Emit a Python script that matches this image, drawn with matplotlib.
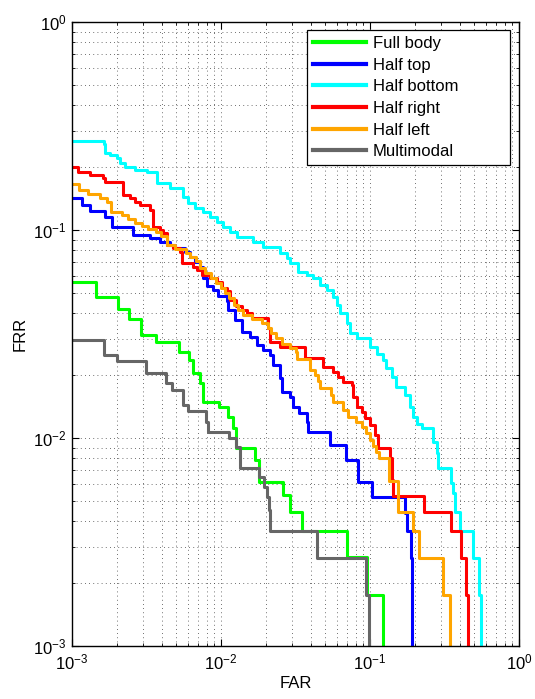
import matplotlib
matplotlib.use("Agg")
import matplotlib.pyplot as plt

plt.rcParams['font.family'] = ['Liberation Sans', 'DejaVu Sans']
plt.rcParams['font.size'] = 12

# DET curves: each point is where the step drops (steps-post)
full_far = [1.00e-3, 1.45e-3, 2.04e-3, 2.41e-3, 2.90e-3, 3.66e-3, 5.22e-3, 6.10e-3, 6.49e-3,
            7.23e-3, 7.57e-3, 9.70e-3, 1.11e-2, 1.20e-2, 1.26e-2, 1.69e-2, 1.80e-2, 2.61e-2,
            2.90e-2, 3.50e-2, 7.01e-2, 9.55e-2, 0.122]
full_frr = [0.0562, 0.0476, 0.0417, 0.0373, 0.0313, 0.0290, 0.0259, 0.0237, 0.0205,
            0.0184, 0.0149, 0.0141, 0.0126, 0.0112, 0.00895, 0.00784, 0.00614, 0.00532,
            0.00441, 0.00357, 0.00268, 0.00176, 1e-3]

top_far = [1.00e-3, 1.17e-3, 1.32e-3, 1.67e-3, 1.85e-3, 2.57e-3, 3.34e-3, 3.90e-3, 4.55e-3,
           4.91e-3, 5.73e-3, 6.19e-3, 6.69e-3, 7.23e-3, 7.57e-3, 8.05e-3, 8.84e-3, 9.55e-3,
           1.10e-2, 1.11e-2, 1.24e-2, 1.38e-2, 1.57e-2, 1.75e-2, 1.91e-2, 2.13e-2, 2.23e-2,
           2.49e-2, 2.57e-2, 2.90e-2, 3.04e-2, 3.34e-2, 3.78e-2, 3.84e-2, 5.39e-2, 6.90e-2,
           8.30e-2, 0.103, 0.172, 0.177, 0.188, 0.191]
top_frr = [0.1426, 0.132, 0.123, 0.1155, 0.1033, 0.0946, 0.0915, 0.0876, 0.0847,
           0.0819, 0.0784, 0.0742, 0.0702, 0.0664, 0.0588, 0.0538, 0.0515, 0.0482,
           0.0456, 0.0412, 0.0369, 0.0323, 0.0306, 0.0280, 0.0265, 0.0251, 0.0224,
           0.0194, 0.0166, 0.0157, 0.0141, 0.0132, 0.0119, 0.0107, 0.00925, 0.00784,
           0.00614, 0.00520, 0.00436, 0.00357, 0.00265, 1e-3]

bottom_far = [1.00e-3, 1.64e-3, 1.67e-3, 1.80e-3, 2.00e-3, 2.10e-3, 2.27e-3, 2.65e-3, 3.19e-3,
              3.72e-3, 4.55e-3, 5.56e-3, 6.01e-3, 6.69e-3, 7.57e-3, 8.44e-3, 9.40e-3, 1.03e-2,
              1.15e-2, 1.28e-2, 1.64e-2, 1.91e-2, 2.49e-2, 2.77e-2, 2.90e-2, 3.29e-2, 3.78e-2,
              4.14e-2, 4.62e-2, 5.14e-2, 5.65e-2, 6.01e-2, 6.29e-2, 7.01e-2, 7.34e-2, 8.18e-2,
              0.100, 0.111, 0.122, 0.128, 0.141, 0.149, 0.172, 0.185, 0.194, 0.207, 0.223,
              0.265, 0.282, 0.286, 0.350, 0.361, 0.372, 0.402, 0.491, 0.540, 0.556]
bottom_frr = [0.268, 0.259, 0.234, 0.2295, 0.222, 0.210, 0.201, 0.194, 0.190,
              0.168, 0.159, 0.144, 0.135, 0.128, 0.122, 0.1155, 0.109, 0.1033,
              0.0978, 0.0925, 0.0876, 0.0828, 0.0775, 0.0734, 0.0694, 0.0628, 0.0608,
              0.0588, 0.0544, 0.0515, 0.0476, 0.0436, 0.0399, 0.0357, 0.0320, 0.0303,
              0.0274, 0.0253, 0.0237, 0.0217, 0.0197, 0.0176, 0.0161, 0.0141, 0.0126, 0.0117, 0.0112,
              0.00957, 0.00847, 0.00718, 0.00608, 0.00544, 0.00441, 0.00357, 0.00265, 0.00176, 1e-3]

right_far = [1.00e-3, 1.10e-3, 1.32e-3, 1.61e-3, 1.67e-3, 2.20e-3, 2.45e-3, 2.65e-3, 2.86e-3,
             3.34e-3, 3.50e-3, 3.90e-3, 4.08e-3, 4.34e-3, 4.76e-3, 5.31e-3, 5.47e-3, 6.49e-3,
             6.90e-3, 7.45e-3, 8.44e-3, 9.40e-3, 1.02e-2, 1.10e-2, 1.15e-2, 1.26e-2, 1.38e-2,
             1.49e-2, 1.61e-2, 2.07e-2, 2.13e-2, 2.49e-2, 3.66e-2, 4.84e-2, 5.65e-2, 6.10e-2,
             6.59e-2, 7.57e-2, 7.69e-2, 8.18e-2, 8.83e-2, 9.25e-2, 0.100, 0.108, 0.113, 0.136,
             0.141, 0.143, 0.230, 0.350, 0.408, 0.441, 0.455]
right_frr = [0.201, 0.190, 0.184, 0.178, 0.170, 0.147, 0.1426, 0.136, 0.132,
             0.125, 0.103, 0.100, 0.0967, 0.0847, 0.0819, 0.0784, 0.0694, 0.0664,
             0.0642, 0.0608, 0.0588, 0.0562, 0.0526, 0.0509, 0.0461, 0.0431, 0.0412,
             0.0399, 0.0378, 0.0338, 0.0290, 0.0274, 0.0243, 0.0219, 0.0208, 0.0197,
             0.0186, 0.0180, 0.0157, 0.0141, 0.0133, 0.0125, 0.01155, 0.01033, 0.00895, 0.00801,
             0.00628, 0.00526, 0.00441, 0.00357, 0.00265, 0.00176, 1e-3]

left_far = [1.00e-3, 1.11e-3, 1.28e-3, 1.54e-3, 1.72e-3, 1.83e-3, 2.17e-3, 2.38e-3, 2.65e-3,
            2.95e-3, 3.24e-3, 3.66e-3, 3.96e-3, 4.34e-3, 4.91e-3, 5.82e-3, 6.19e-3, 6.79e-3,
            7.23e-3, 7.81e-3, 8.57e-3, 9.25e-3, 1.00e-2, 1.06e-2, 1.13e-2, 1.22e-2, 1.30e-2,
            1.41e-2, 1.61e-2, 1.88e-2, 2.07e-2, 2.17e-2, 2.34e-2, 2.57e-2, 2.90e-2, 3.18e-2,
            3.24e-2, 3.96e-2, 4.27e-2, 4.48e-2, 4.62e-2, 5.47e-2, 5.65e-2, 6.59e-2, 7.12e-2,
            8.05e-2, 8.83e-2, 9.40e-2, 0.100, 0.105, 0.110, 0.115, 0.134, 0.154, 0.194, 0.213,
            0.309, 0.344]
left_frr = [0.1664, 0.1556, 0.149, 0.1426, 0.136, 0.122, 0.118, 0.113, 0.108,
            0.1045, 0.1011, 0.0978, 0.0936, 0.0847, 0.0811, 0.0775, 0.0742, 0.0710,
            0.0657, 0.0621, 0.0588, 0.0556, 0.0526, 0.0498, 0.0471, 0.0436, 0.0412,
            0.0390, 0.0373, 0.0357, 0.0338, 0.0320, 0.0303, 0.0283, 0.0271, 0.0259,
            0.0240, 0.0212, 0.0201, 0.0188, 0.0174, 0.0161, 0.0149, 0.0136, 0.0126,
            0.0119, 0.0113, 0.0106, 0.00978, 0.00915, 0.00857, 0.00801, 0.00621, 0.00441, 0.00357, 0.00265,
            0.00176, 1e-3]

multi_far = [1.00e-3, 1.64e-3, 2.00e-3, 3.14e-3, 4.27e-3, 4.69e-3, 5.56e-3, 6.01e-3, 7.93e-3,
             8.18e-3, 1.13e-2, 1.26e-2, 1.34e-2, 1.80e-2, 1.94e-2, 2.04e-2, 2.10e-2, 2.13e-2,
             4.41e-2, 9.40e-2, 9.85e-2]
multi_frr = [0.0296, 0.0251, 0.0234, 0.0205, 0.0184, 0.0170, 0.0144, 0.0135, 0.0119,
             0.0107, 0.0100, 0.00905, 0.00718, 0.00649, 0.00581, 0.00520, 0.00451, 0.00357,
             0.00265, 0.00176, 1e-3]

labels = ['Full body', 'Half top', 'Half bottom', 'Half right', 'Half left', 'Multimodal']
colors = ['#00ff00', '#0000ff', '#00ffff', '#ff0000', '#ffa500', '#666666']
series = [(full_far, full_frr), (top_far, top_frr), (bottom_far, bottom_frr),
          (right_far, right_frr), (left_far, left_frr), (multi_far, multi_frr)]

fig = plt.figure(figsize=(5.35, 6.99), dpi=100)
ax = fig.add_axes([72 / 535, 1 - 646 / 699, 447 / 535, 624 / 699])

for (far, frr), lab, col in zip(series, labels, colors):
    ax.plot(far, frr, drawstyle='steps-post', color=col, lw=2.2, label=lab)

ax.set_xscale('log')
ax.set_yscale('log')
ax.set_xlim(1e-3, 1)
ax.set_ylim(1e-3, 1)

ax.grid(True, which='both', linestyle=(0, (1, 4)), color='0.25', linewidth=0.6)
ax.tick_params(which='both', direction='in', top=True, right=True, labelsize=12)
ax.tick_params(which='major', length=5, width=0.8)
ax.tick_params(axis='x', which='major', pad=5)
ax.tick_params(axis='y', which='major', pad=4)
ax.tick_params(which='minor', length=2.5, width=0.6)
for s in ax.spines.values():
    s.set_linewidth(1.0)

ax.set_xlabel('FAR', fontsize=12, labelpad=2)
ax.set_ylabel('FRR', fontsize=12, labelpad=4)

# legend box stretched to the MATLAB-like width
leg = ax.legend(loc='upper left', bbox_to_anchor=(0.526, 0.5, 0.454, 0.487), mode='expand',
                borderaxespad=0, fancybox=False, framealpha=1, edgecolor='black', fontsize=12,
                handlelength=3.2, labelspacing=0.40, borderpad=0.35, handletextpad=0.4)
leg.get_frame().set_linewidth(0.9)
for h in leg.get_lines():
    h.set_linewidth(3)

fig.savefig('out.png', dpi=100)
